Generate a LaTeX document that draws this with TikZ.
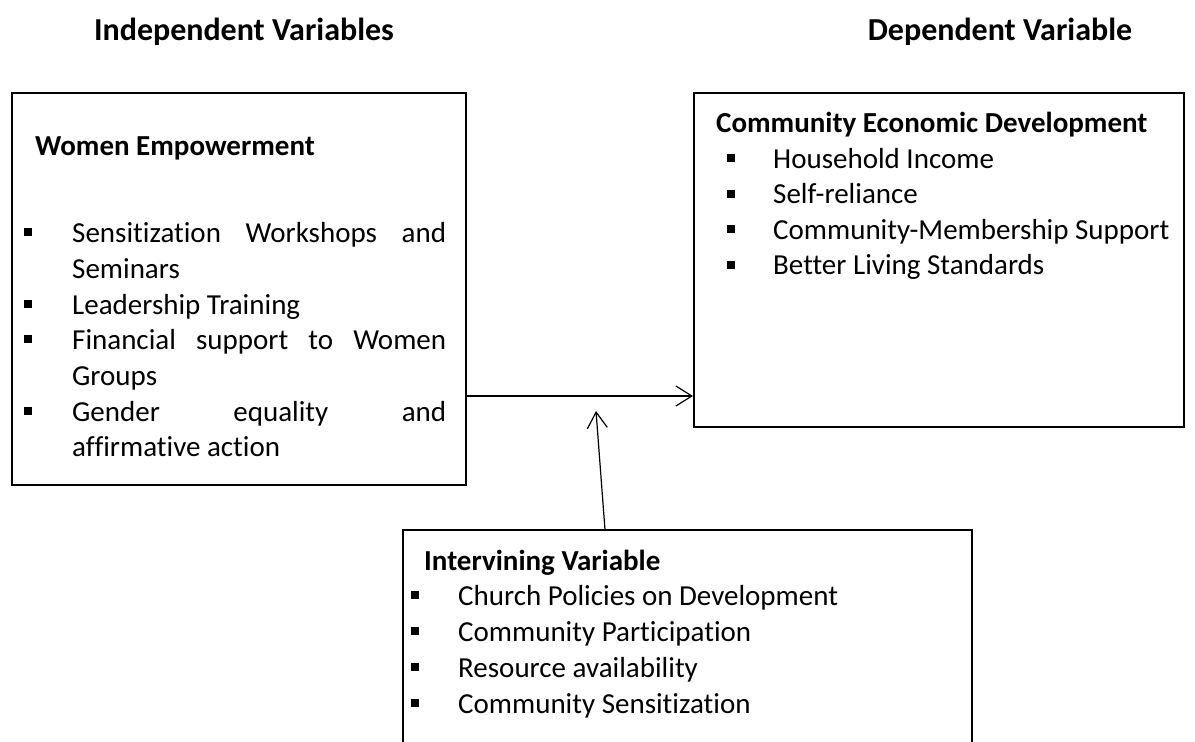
\documentclass[tikz,border=0pt]{standalone}
\usepackage{fontspec}
\setmainfont{Carlito}[Ligatures=NoCommon]
\usetikzlibrary{arrows.meta}
\begin{document}
\begin{tikzpicture}[x=1pt,y=-1pt,
  box/.style={draw=black, line width=2pt, inner sep=0pt},
  txt/.style={anchor=base west, inner sep=0pt, font=\fontsize{29pt}{35.5pt}\selectfont},
  head/.style={anchor=base west, inner sep=0pt, font=\fontsize{29pt}{35.5pt}\selectfont\bfseries},
  title/.style={anchor=base, inner sep=0pt, font=\fontsize{32pt}{38pt}\selectfont\bfseries},
  sq/.style={fill=black, inner sep=0pt, minimum size=8pt},
  arr/.style={line width=1.2pt, -{Straight Barb[length=16pt,width=20pt]}}]
\useasboundingbox (0,0) rectangle (1195,742);

% titles
\node[title] (indep) at (244,40) {Independent Variables};
\node[title] (dep) at (1000,40) {Dependent Variable};

% boxes
\node[box, minimum width=454pt, minimum height=392pt] (left) at (239,289) {};
\node[box, minimum width=490pt, minimum height=334pt] (right) at (939,260) {};
\node[inner sep=0pt, minimum width=569pt, minimum height=212pt] (bottom) at (687.5,636) {};
\draw[line width=2pt] (bottom.south west) -- (bottom.north west) -- (bottom.north east) -- (bottom.south east);

% left box text
\node[head] (we) at (35,155) {Women Empowerment};
\node[sq] (lb1) at (28,232) {};
\node[sq] (lb2) at (28,304) {};
\node[sq] (lb3) at (28,339) {};
\node[sq] (lb4) at (28,411) {};
\node[txt] (l1) at (72,242) {\makebox[374pt][s]{Sensitization Workshops and}};
\node[txt] (l2) at (72,278) {Seminars};
\node[txt] (l3) at (72,314) {Leadership Training};
\node[txt] (l4) at (72,349) {\makebox[374pt][s]{Financial support to Women}};
\node[txt] (l5) at (72,385) {Groups};
\node[txt] (l6) at (72,421) {\makebox[374pt][s]{Gender equality and}};
\node[txt] (l7) at (72,456) {affirmative action};

% right box text
\node[head] (ced) at (716,132) {Community Economic Development};
\node[sq] (rb1) at (731,158) {};
\node[sq] (rb2) at (731,193.5) {};
\node[sq] (rb3) at (731,229) {};
\node[sq] (rb4) at (731,264.5) {};
\node[txt] (r1) at (773,168) {Household Income};
\node[txt] (r2) at (773,203.5) {Self-reliance};
\node[txt] (r3) at (773,239) {Community-Membership Support};
\node[txt] (r4) at (773,274.5) {Better Living Standards};

% bottom box text
\node[head] (iv) at (424,570) {Intervining Variable};
\node[sq] (bb1) at (415,595) {};
\node[sq] (bb2) at (415,631) {};
\node[sq] (bb3) at (415,667) {};
\node[sq] (bb4) at (415,703) {};
\node[txt] (b1) at (458,605) {Church Policies on Development};
\node[txt] (b2) at (458,641) {Community Participation};
\node[txt] (b3) at (458,677) {Resource availability};
\node[txt] (b4) at (458,713) {Community Sensitization};

% connectors
\coordinate (hy) at (0,396);
\coordinate (vtip) at (596,411);
\draw[arr] (left.east |- hy) -- (right.west |- hy);
\draw[arr] ([xshift=-82.5pt]bottom.north) -- (vtip);
\end{tikzpicture}
\end{document}
